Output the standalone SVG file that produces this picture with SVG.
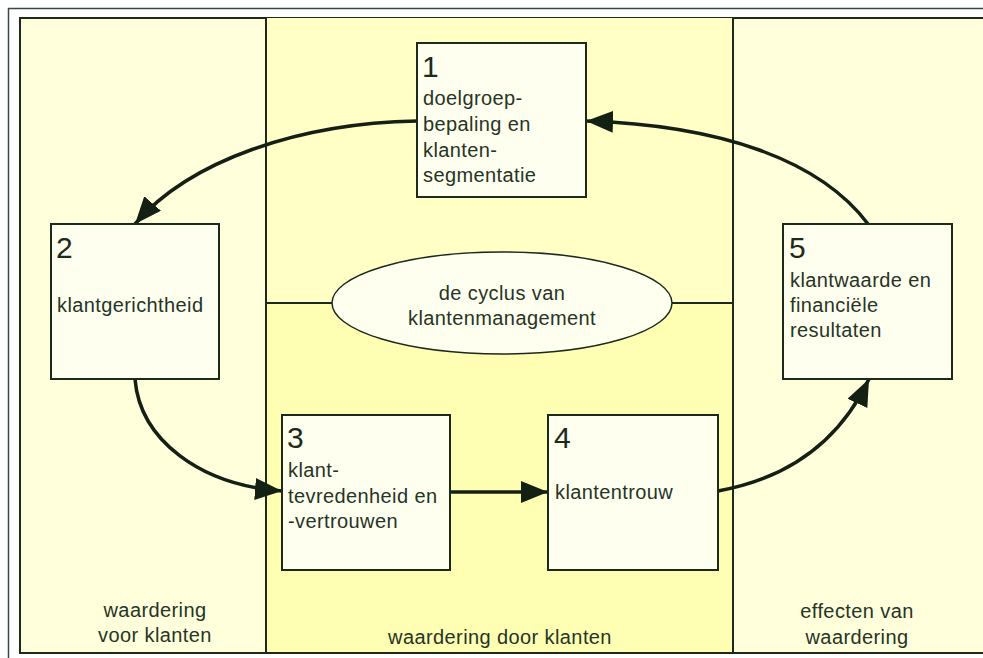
<svg xmlns="http://www.w3.org/2000/svg" width="983" height="658" viewBox="0 0 983 658">
  <style>
    .panel { stroke: #1c2a1c; stroke-width: 2; }
    .box { fill: #fffff0; stroke: #1c2a1c; stroke-width: 2; }
    .conn { fill: none; stroke: #142014; stroke-width: 3.5; }
    .num { font-family: "Liberation Sans", Arial, sans-serif; font-size: 30px; fill: #1c2a1c; }
    .lbl { font-family: "Liberation Sans", Arial, sans-serif; font-size: 20px; letter-spacing: 0.4px; fill: #263426; }
    .mid { text-anchor: middle; }
  </style>
  <defs>
    <marker id="head" markerUnits="userSpaceOnUse" markerWidth="30" markerHeight="24" refX="27" refY="11" orient="auto">
      <path d="M0,0 L27,11 L0,22 Z" fill="#142014"/>
    </marker>
  </defs>

  <!-- page background and outer frame -->
  <rect x="0" y="0" width="983" height="658" fill="#ffffff"/>
  <rect x="8.5" y="8.5" width="990" height="660" fill="#ffffff" stroke="#3a4a3a" stroke-width="1.5"/>

  <!-- columns -->
  <g id="columns">
    <rect class="panel" x="20" y="18" width="980" height="635" fill="#ffffdc"/>
    <rect x="266" y="18" width="467" height="285" fill="#ffffc6"/>
    <rect x="266" y="303" width="467" height="350" fill="#ffffb4"/>
    <line class="panel" x1="266" y1="18" x2="266" y2="653"/>
    <line class="panel" x1="733" y1="18" x2="733" y2="653"/>
    <line class="panel" x1="266" y1="303" x2="733" y2="303"/>
    <line class="panel" x1="20" y1="653" x2="1000" y2="653"/>
    <text class="lbl mid" x="155" y="617">waardering</text>
    <text class="lbl mid" x="155" y="642">voor klanten</text>
    <text class="lbl mid" x="500" y="644">waardering door klanten</text>
    <text class="lbl mid" x="857" y="618">effecten van</text>
    <text class="lbl mid" x="857" y="644">waardering</text>
  </g>

  <!-- centre ellipse -->
  <g id="cycle">
    <ellipse cx="502" cy="303" rx="170" ry="51" fill="#fffff0" stroke="#1c2a1c" stroke-width="1.5"/>
    <text class="lbl mid" x="502" y="300">de cyclus van</text>
    <text class="lbl mid" x="502" y="325">klantenmanagement</text>
  </g>

  <!-- connectors -->
  <g id="connectors">
    <path class="conn" d="M417,121 C300,123 190,160 135,224" marker-end="url(#head)"/>
    <path class="conn" d="M135,379 C140,440 200,485 282,491" marker-end="url(#head)"/>
    <path class="conn" d="M450,492 L548,492" marker-end="url(#head)"/>
    <path class="conn" d="M718,491 C790,478 840,440 869,379" marker-end="url(#head)"/>
    <path class="conn" d="M868,224 C820,160 720,125 586,121" marker-end="url(#head)"/>
  </g>

  <g id="node1">
    <rect class="box" x="417" y="43" width="169" height="154"/>
    <text class="num" x="422" y="77">1</text>
    <text class="lbl" x="423" y="105">doelgroep-</text>
    <text class="lbl" x="423" y="131">bepaling en</text>
    <text class="lbl" x="423" y="157">klanten-</text>
    <text class="lbl" x="423" y="182">segmentatie</text>
  </g>

  <g id="node2">
    <rect class="box" x="51" y="224" width="168" height="155"/>
    <text class="num" x="56" y="258">2</text>
    <text class="lbl" x="57" y="312">klantgerichtheid</text>
  </g>

  <g id="node3">
    <rect class="box" x="282" y="415" width="168" height="155"/>
    <text class="num" x="287" y="448">3</text>
    <text class="lbl" x="288" y="477">klant-</text>
    <text class="lbl" x="288" y="503">tevredenheid en</text>
    <text class="lbl" x="288" y="528">-vertrouwen</text>
  </g>

  <g id="node4">
    <rect class="box" x="548" y="415" width="170" height="155"/>
    <text class="num" x="554" y="448">4</text>
    <text class="lbl" x="555" y="499">klantentrouw</text>
  </g>

  <g id="node5">
    <rect class="box" x="783" y="224" width="169" height="155"/>
    <text class="num" x="789" y="258">5</text>
    <text class="lbl" x="790" y="287">klantwaarde en</text>
    <text class="lbl" x="790" y="312">financiële</text>
    <text class="lbl" x="790" y="337">resultaten</text>
  </g>
</svg>
